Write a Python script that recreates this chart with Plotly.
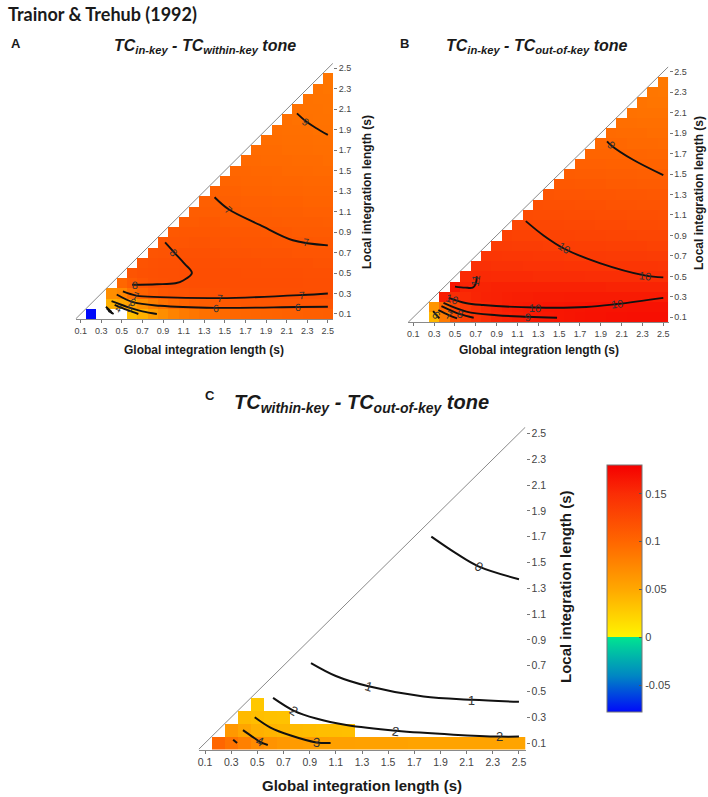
import math
import plotly.graph_objects as go

W, H = 708, 797
FONT = "Liberation Sans, Arial, sans-serif"

# ---------------- data ----------------
GRID = [0.1, 0.2, 0.3, 0.4, 0.5, 0.6, 0.7, 0.8, 0.9, 1.0, 1.1, 1.2, 1.3,
        1.4, 1.5, 1.6, 1.7, 1.8, 1.9, 2.0, 2.1, 2.2, 2.3, 2.4, 2.5]
TICKS = [0.1, 0.3, 0.5, 0.7, 0.9, 1.1, 1.3, 1.5, 1.7, 1.9, 2.1, 2.3, 2.5]
TICK_TEXT = ["0.1", "0.3", "0.5", "0.7", "0.9", "1.1", "1.3", "1.5", "1.7",
             "1.9", "2.1", "2.3", "2.5"]
RANGE = [0.05, 2.55]

# heat values (x1000); row k = local length GRID[k], entries start at global = GRID[k+1]
A_ROWS = [
    [-78, None, None, None, 35, 45, 58, 70, 78, 84, 88, 92, 95, 97, 99, 100, 101, 102, 103, 104, 105, 106, 106, 107],
    [None, 45, 50, 55, 68, 80, 90, 97, 102, 106, 108, 110, 111, 112, 113, 113, 114, 114, 115, 115, 115, 115, 115],
    [70, 75, 92, 103, 110, 114, 116, 117, 118, 118, 119, 119, 120, 120, 120, 120, 120, 120, 120, 120, 120, 120],
    [100, 110, 115, 118, 119, 120, 120, 121, 121, 121, 121, 121, 121, 121, 121, 121, 121, 121, 120, 120, 120],
    [116, 118, 119, 120, 120, 121, 121, 121, 121, 121, 121, 120, 120, 120, 120, 120, 120, 119, 119, 119],
    [117, 118, 119, 119, 120, 120, 120, 120, 119, 119, 119, 119, 118, 118, 118, 118, 118, 117, 117],
    [116, 117, 117, 118, 118, 118, 118, 117, 117, 117, 116, 116, 116, 116, 115, 115, 115, 115],
    [114, 115, 115, 116, 116, 115, 115, 115, 114, 114, 114, 113, 113, 113, 113, 112, 112],
    [112, 113, 113, 113, 113, 113, 112, 112, 112, 111, 111, 111, 110, 110, 110, 110],
    [110, 110, 111, 111, 110, 110, 110, 109, 109, 109, 108, 108, 108, 108, 107],
    [108, 108, 108, 108, 108, 107, 107, 107, 106, 106, 106, 105, 105, 105],
    [106, 106, 106, 106, 105, 105, 105, 104, 104, 104, 103, 103, 103],
    [104, 104, 104, 103, 103, 103, 102, 102, 102, 101, 101, 101],
    [102, 102, 101, 101, 101, 100, 100, 100, 99, 99, 99],
    [100, 100, 99, 99, 99, 98, 98, 98, 97, 97],
    [98, 98, 97, 97, 97, 96, 96, 96, 95],
    [96, 96, 96, 95, 95, 95, 94, 94],
    [95, 95, 94, 94, 94, 93, 93],
    [94, 93, 93, 93, 92, 92],
    [93, 92, 92, 91, 91],
    [92, 91, 91, 90],
    [91, 90, 90],
    [90, 89],
    [89],
]
B_ROWS = [
    [None, 40, 85, 120, 135, 145, 150, 155, 158, 160, 162, 163, 164, 165, 166, 167, 168, 168, 169, 169, 170, 170, 170, 170],
    [65, 100, 128, 140, 148, 153, 157, 160, 162, 163, 164, 165, 165, 166, 166, 167, 167, 167, 167, 168, 168, 168, 168],
    [160, 150, 152, 155, 157, 158, 159, 160, 160, 161, 161, 161, 162, 162, 162, 162, 162, 162, 162, 162, 162, 162],
    [166, 156, 156, 156, 157, 157, 157, 157, 157, 157, 157, 157, 157, 157, 157, 156, 156, 156, 156, 156, 156],
    [152, 152, 152, 151, 151, 151, 151, 150, 150, 150, 150, 150, 149, 149, 149, 149, 149, 149, 148, 148],
    [147, 147, 146, 146, 146, 145, 145, 145, 145, 144, 144, 144, 144, 143, 143, 143, 143, 143, 142],
    [142, 142, 141, 141, 141, 140, 140, 140, 139, 139, 139, 139, 138, 138, 138, 138, 137, 137],
    [137, 137, 136, 136, 136, 135, 135, 135, 134, 134, 134, 133, 133, 133, 133, 132, 132],
    [133, 132, 132, 132, 131, 131, 131, 130, 130, 130, 129, 129, 129, 128, 128, 128],
    [128, 128, 127, 127, 127, 126, 126, 126, 125, 125, 125, 124, 124, 124, 123],
    [124, 123, 123, 123, 122, 122, 122, 121, 121, 121, 120, 120, 120, 119],
    [120, 119, 119, 119, 118, 118, 118, 117, 117, 117, 116, 116, 116],
    [116, 115, 115, 115, 114, 114, 114, 113, 113, 113, 112, 112],
    [112, 112, 111, 111, 111, 110, 110, 110, 109, 109, 109],
    [109, 108, 108, 108, 107, 107, 107, 106, 106, 106],
    [105, 105, 105, 104, 104, 104, 103, 103, 103],
    [102, 102, 102, 101, 101, 101, 100, 100],
    [99, 99, 99, 98, 98, 98, 97],
    [97, 96, 96, 96, 95, 95],
    [94, 94, 93, 93, 93],
    [92, 91, 91, 91],
    [90, 89, 89],
    [88, 87],
    [86],
]
C_ROWS = [
    [100, 90, 80, 72, 66, 62, 60, 58, 57, 56, 56, 55, 55, 55, 55, 54, 54, 54, 54, 54, 54, 54, 53, 53],
    [62, 52, 45, 42, 40, 38, 37, 36, 36, 35],
    [38, 36, 34, 33],
    [30],
]

# contour lines ([global], [local]) and their labels (global, local, text)
A_LINES = [
    ([2.20, 2.29, 2.38, 2.50], [2.06, 1.98, 1.92, 1.85]),
    ([1.40, 1.54, 1.84, 2.16, 2.50], [1.24, 1.12, 0.97, 0.82, 0.77]),
    ([0.92, 1.01, 1.11, 1.18, 1.10, 1.02, 0.84, 0.60], [0.80, 0.70, 0.59, 0.50, 0.43, 0.40, 0.39, 0.385]),
    ([0.51, 0.64, 0.87, 1.45, 2.25, 2.50], [0.32, 0.28, 0.265, 0.255, 0.285, 0.30]),
    ([0.45, 0.61, 0.87, 1.41, 2.21, 2.50], [0.29, 0.215, 0.18, 0.16, 0.168, 0.17]),
    ([0.40, 0.55, 0.70, 0.84], [0.225, 0.17, 0.125, 0.10]),
    ([0.43, 0.55, 0.66], [0.19, 0.14, 0.10]),
    ([0.345, 0.40], [0.17, 0.12]),
    ([0.355, 0.41], [0.15, 0.105]),
    ([0.37, 0.42], [0.13, 0.10]),
]
A_LABELS = [(2.29, 1.98, "9"), (1.54, 1.12, "7"), (2.29, 0.80, "7"),
            (1.01, 0.70, "8"), (0.63, 0.386, "8"), (0.64, 0.277, "7"),
            (1.45, 0.255, "7"), (2.25, 0.285, "7"), (0.61, 0.215, "6"),
            (1.41, 0.158, "6"), (2.21, 0.168, "6"), (0.58, 0.16, "5"),
            (0.47, 0.16, "4")]

B_LINES = [
    ([1.96, 2.00, 2.21, 2.50], [1.82, 1.78, 1.64, 1.49]),
    ([1.18, 1.35, 1.55, 1.89, 2.32, 2.50], [1.04, 0.90, 0.77, 0.63, 0.51, 0.49]),
    ([0.50, 0.60, 0.67, 0.70, 0.71], [0.40, 0.39, 0.39, 0.43, 0.50]),
    ([0.44, 0.60, 0.77, 1.27, 1.76, 2.06, 2.50], [0.29, 0.24, 0.22, 0.195, 0.20, 0.23, 0.29]),
    ([0.39, 0.61, 0.90, 1.20, 1.48], [0.24, 0.155, 0.12, 0.105, 0.095]),
    ([0.37, 0.55, 0.68], [0.21, 0.13, 0.095]),
    ([0.34, 0.44, 0.52], [0.17, 0.122, 0.09]),
    ([0.29, 0.35], [0.16, 0.09]),
]
B_LABELS = [(2.00, 1.78, "9"), (1.55, 0.775, "10"), (2.32, 0.507, "10"),
            (0.70, 0.46, "11"), (0.47, 0.28, "10"), (1.27, 0.195, "10"),
            (2.06, 0.23, "10"), (1.20, 0.106, "9"), (0.55, 0.13, "8"),
            (0.44, 0.122, "7"), (0.32, 0.12, "6")]

C_LINES = [
    ([1.83, 2.02, 2.19, 2.50], [1.70, 1.57, 1.47, 1.37]),
    ([0.91, 1.10, 1.35, 1.77, 2.14, 2.50], [0.72, 0.62, 0.54, 0.46, 0.435, 0.42]),
    ([0.62, 0.78, 0.95, 1.18, 1.56, 2.00, 2.35, 2.50], [0.45, 0.35, 0.29, 0.24, 0.195, 0.165, 0.15, 0.15]),
    ([0.48, 0.60, 0.75, 0.95, 1.06], [0.30, 0.22, 0.16, 0.105, 0.10]),
    ([0.39, 0.46, 0.52, 0.58], [0.20, 0.15, 0.11, 0.085]),
    ([0.315, 0.345], [0.125, 0.10]),
]
C_LABELS = [(2.19, 1.465, "0"), (1.35, 0.536, "1"), (2.14, 0.433, "1"),
            (0.775, 0.35, "2"), (1.558, 0.193, "2"), (2.35, 0.149, "2"),
            (0.949, 0.105, "3"), (0.52, 0.11, "4")]

CB_TICKS = [-0.05, 0, 0.05, 0.1, 0.15]
CB_TEXT = ["-0.05", "0", "0.05", "0.1", "0.15"]
C_MIN, C_MAX = -0.078, 0.18
COLOR_STOPS = [(-0.078, "rgb(0,10,250)"), (-0.04, "rgb(0,135,195)"),
               (0.0, "rgb(0,228,145)"), (0.0, "rgb(255,245,0)"),
               (0.05, "rgb(255,168,0)"), (0.1, "rgb(255,102,0)"),
               (0.15, "rgb(250,45,5)"), (0.18, "rgb(245,0,0)")]

# ---------------- build ----------------
def full_grid(rows):
    z = []
    for k in range(len(GRID)):
        row = rows[k] if k < len(rows) else []
        vals = [None] * (k + 1) + [None if v is None else v / 1000 for v in row]
        z.append((vals + [None] * 25)[:25])
    return z


def px_x(p):
    return p / W


def px_y(p):
    return 1 - p / H


PANELS = [
    dict(rows=A_ROWS, lines=A_LINES, labels=A_LABELS, ax="", box=(75.5, 333.0, 63.2, 319.1),
         tick=9, lab=10.5, lw=1.9),
    dict(rows=B_ROWS, lines=B_LINES, labels=B_LABELS, ax="2", box=(408.1, 668.5, 66.6, 322.4),
         tick=9, lab=11, lw=1.9),
    dict(rows=C_ROWS, lines=C_LINES, labels=C_LABELS, ax="3", box=(198.5, 525.5, 427.0, 749.5),
         tick=10.5, lab=13, lw=2.0),
]

colorscale = [[(v - C_MIN) / (C_MAX - C_MIN), c] for v, c in COLOR_STOPS]

fig = go.Figure()
annotations = []
layout = dict(
    width=W, height=H, margin=dict(l=0, r=0, t=0, b=0), template="none",
    paper_bgcolor="white", plot_bgcolor="white", showlegend=False,
    coloraxis=dict(
        cmin=C_MIN, cmax=C_MAX, colorscale=colorscale,
        colorbar=dict(x=px_x(607), xanchor="left", xpad=0, y=px_y(588.5), yanchor="middle",
                      ypad=0, len=247 / H, lenmode="fraction", thickness=35,
                      thicknessmode="pixels", outlinecolor="#777", outlinewidth=1,
                      tickvals=CB_TICKS, ticktext=CB_TEXT, ticks="inside", ticklen=3,
                      tickcolor="#555", tickfont=dict(family=FONT, size=11, color="#444")),
    ),
)

for p in PANELS:
    l, r, t, b = p["box"]
    xa, ya = "x" + p["ax"], "y" + p["ax"]
    ppx = (r - l) / (RANGE[1] - RANGE[0])
    ppy = (b - t) / (RANGE[1] - RANGE[0])
    fig.add_trace(go.Heatmap(x=GRID, y=GRID, z=full_grid(p["rows"]), coloraxis="coloraxis",
                             xaxis=xa, yaxis=ya, hoverinfo="skip"))
    fig.add_trace(go.Scatter(x=RANGE, y=RANGE, mode="lines", xaxis=xa, yaxis=ya,
                             line=dict(color="#8a8a8a", width=1), hoverinfo="skip"))
    for xs, ys in p["lines"]:
        fig.add_trace(go.Scatter(x=xs, y=ys, mode="lines", xaxis=xa, yaxis=ya,
                                 line=dict(color="#111", width=p["lw"], shape="spline"),
                                 hoverinfo="skip"))
    for lx, ly, txt in p["labels"]:
        best = None
        for xs, ys in p["lines"]:
            for i in range(len(xs) - 1):
                mx, my = (xs[i] + xs[i + 1]) / 2, (ys[i] + ys[i + 1]) / 2
                d = ((mx - lx) * ppx) ** 2 + ((my - ly) * ppy) ** 2
                if best is None or d < best[0]:
                    best = (d, xs[i + 1] - xs[i], ys[i + 1] - ys[i])
        ang = math.degrees(math.atan2(-best[2] * ppy, best[1] * ppx))
        if ang > 90:
            ang -= 180
        if ang < -90:
            ang += 180
        annotations.append(dict(x=lx, y=ly, xref=xa, yref=ya, text=txt, showarrow=False,
                                textangle=ang,
                                font=dict(family=FONT, size=p["lab"], color="#333")))
    key = p["ax"]
    layout["xaxis" + key] = dict(
        domain=[px_x(l), px_x(r)], range=RANGE, anchor=ya, tickvals=TICKS, ticktext=TICK_TEXT,
        ticks="outside", ticklen=3, tickwidth=1, tickcolor="#777", showline=True,
        linecolor="#8a8a8a", linewidth=1, showgrid=False, zeroline=False, automargin=False,
        tickfont=dict(family=FONT, size=p["tick"], color="#444"), fixedrange=True)
    layout["yaxis" + key] = dict(
        domain=[px_y(b), px_y(t)], range=RANGE, anchor=xa, side="right", tickvals=TICKS,
        ticktext=TICK_TEXT, ticks="outside", ticklen=3, tickwidth=1, tickcolor="#777",
        showline=False, showgrid=False, zeroline=False, automargin=False,
        tickfont=dict(family=FONT, size=p["tick"], color="#444"), fixedrange=True)


def text_ann(x, y, text, size, angle=0, anchor="center", family=FONT, color="#1a1a1a"):
    annotations.append(dict(x=px_x(x), y=px_y(y), xref="paper", yref="paper", text=text,
                            showarrow=False, textangle=angle, xanchor=anchor, yanchor="middle",
                            font=dict(family=family, size=size, color=color)))


text_ann(6, 14, "<b>Trainor &amp; Trehub (1992)</b>", 18, anchor="left", family="Lato, Open Sans, sans-serif")
text_ann(9, 43, "<b>A</b>", 13, anchor="left")
text_ann(398, 43, "<b>B</b>", 13, anchor="left")
text_ann(203, 395, "<b>C</b>", 13, anchor="left")
text_ann(205, 46, "<b><i>TC<sub>in-key</sub> - TC<sub>within-key</sub> tone</i></b>", 16)
text_ann(537, 46, "<b><i>TC<sub>in-key</sub> - TC<sub>out-of-key</sub> tone</i></b>", 16)
text_ann(361, 403, "<b><i>TC<sub>within-key</sub> - TC<sub>out-of-key</sub> tone</i></b>", 20)
text_ann(204, 350, "<b>Global integration length (s)</b>", 12)
text_ann(539, 350, "<b>Global integration length (s)</b>", 12)
text_ann(362, 785, "<b>Global integration length (s)</b>", 15)
text_ann(367, 192, "<b>Local integration length (s)</b>", 12, angle=-90)
text_ann(699, 193, "<b>Local integration length (s)</b>", 12, angle=-90)
text_ann(565, 587, "<b>Local integration length (s)</b>", 15, angle=-90)

layout["annotations"] = annotations
fig.update_layout(**layout)
fig.write_html("out.html", config={"displayModeBar": False},
               post_script="document.body.style.margin='0px';")
